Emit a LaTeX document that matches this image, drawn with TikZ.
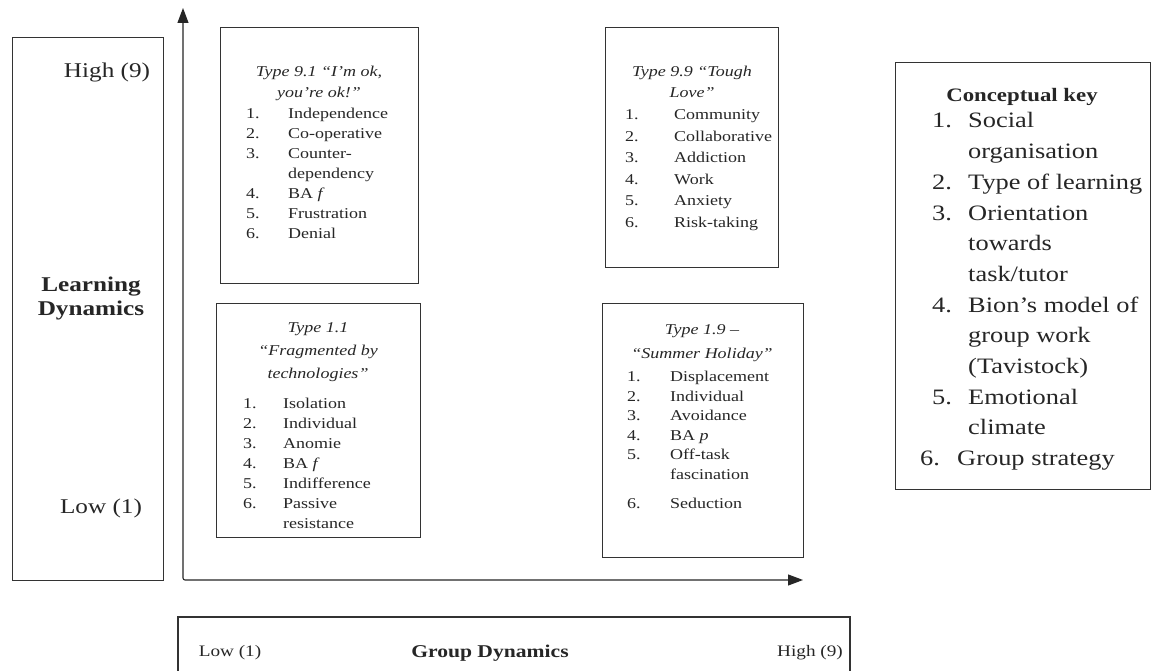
\documentclass[tikz,border=0pt]{standalone}
\usepackage{fontspec}
\setmainfont{Liberation Serif}[FakeStretch=1.2]
\usepackage{array}
\usetikzlibrary{arrows.meta,positioning}

\tikzset{
  quad/.style={draw=black!80,line width=1.1pt,inner sep=0pt,anchor=north west},
  qtitle/.style={anchor=base,inner sep=0pt,align=center,text=black!85,
    font=\fontsize{15}{21}\selectfont\itshape},
  qlist/.style={anchor=base west,inner sep=0pt,text=black!85},
  axislab/.style={inner sep=0pt,text=black!85,font=\fontsize{21}{24}\selectfont}
}

\begin{document}
\begin{tikzpicture}[x=1pt,y=1pt]
		\path[use as bounding box,fill=white] (0,0) rectangle (1156,671);
		%
		\node[quad,minimum width=151pt,minimum height=543pt] (LD) at (12,634) {};
		\node[axislab] (LDhi) at (107,599) {High (9)};
		\node[axislab,align=center,font=\fontsize{21}{24}\selectfont\bfseries] (LDname) at (91,373) {Learning\\Dynamics};
		\node[axislab] (LDlo) at (101,163) {Low (1)};
		%
		\coordinate (Ytop) at (183,663);
		\coordinate (O) at (183,91);
		\coordinate (Xend) at (803,91);
		\draw[black!85,line width=1.1pt,rounded corners=2pt,
			{Triangle[length=15pt,width=11pt]}-{Triangle[length=15pt,width=11pt]}]
			(Ytop) -- (O) -- (Xend);
		%
		% type 9.1
		\node[quad,minimum width=198pt,minimum height=256pt] (Q91) at (220,644) {};
		\node[qtitle] (Q91t) at (319,573) {Type 9.1 ``I'm ok,\\you're ok!''};
		\node[qlist,font=\fontsize{15}{20}\selectfont] (Q91l) at (246,552) {%
			\begin{tabular}[t]{@{}p{42pt}@{}l@{}}
			1. & Independence\\
			2. & Co-operative\\
			3. & Counter-\\
			   & dependency\\
			4. & BA \textit{f}\\
			5. & Frustration\\
			6. & Denial
			\end{tabular}};
		%
		% type 9.9
		\node[quad,minimum width=173pt,minimum height=240pt] (Q99) at (605,644) {};
		\node[qtitle] (Q99t) at (692,573) {Type 9.9 ``Tough\\Love''};
		\node[qlist,font=\fontsize{15}{21.5}\selectfont] (Q99l) at (625,551) {%
			\begin{tabular}[t]{@{}p{49pt}@{}l@{}}
			1. & Community\\
			2. & Collaborative\\
			3. & Addiction\\
			4. & Work\\
			5. & Anxiety\\
			6. & Risk-taking
			\end{tabular}};
		%
		% type 1.1
		\node[quad,minimum width=204pt,minimum height=234pt] (Q11) at (216,368) {};
		\node[qtitle,font=\fontsize{15}{23}\selectfont\itshape] (Q11t) at (318,292) {Type 1.1\\``Fragmented by\\technologies''};
		\node[qlist,font=\fontsize{15}{20}\selectfont] (Q11l) at (243,262) {%
			\begin{tabular}[t]{@{}p{40pt}@{}l@{}}
			1. & Isolation\\
			2. & Individual\\
			3. & Anomie\\
			4. & BA \textit{f}\\
			5. & Indifference\\
			6. & Passive\\
			   & resistance
			\end{tabular}};
		%
		% type 1.9
		\node[quad,minimum width=201pt,minimum height=254pt] (Q19) at (602,368) {};
		\node[qtitle,font=\fontsize{15}{24}\selectfont\itshape] (Q19t) at (702,312) {Type 1.9 --\\``Summer Holiday''};
		\node[qlist,font=\fontsize{15}{19.5}\selectfont] (Q19l) at (627,289) {%
			\begin{tabular}[t]{@{}p{43pt}@{}l@{}}
			1. & Displacement\\
			2. & Individual\\
			3. & Avoidance\\
			4. & BA \textit{p}\\
			5. & Off-task\\
			   & fascination\\[10pt]
			6. & Seduction
			\end{tabular}};
		%
		% key
		\node[quad,minimum width=255pt,minimum height=427pt] (Key) at (895,609) {};
		\node[qtitle,font=\fontsize{19}{22}\selectfont\bfseries] (Keyt) at (1022,569) {Conceptual key};
		\node[qlist,font=\fontsize{22}{30.7}\selectfont] (Keyl) at (932,543) {%
			\begin{tabular}[t]{@{}p{36pt}@{}l@{}}
			1. & Social\\
			   & organisation\\
			2. & Type of learning\\
			3. & Orientation\\
			   & towards\\
			   & task/tutor\\
			4. & Bion's model of\\
			   & group work\\
			   & (Tavistock)\\
			5. & Emotional\\
			   & climate\\
			\hspace*{-12pt}6. & \hspace*{-11pt}Group strategy
			\end{tabular}};
		%
		% group dynamics
		\coordinate (GDa) at (178,-2);
		\coordinate (GDb) at (178,54);
		\coordinate (GDc) at (850,54);
		\coordinate (GDd) at (850,-2);
		\draw[black!80,line width=1.1pt] (GDa) -- (GDb) -- (GDc) -- (GDd);
		\node[axislab,font=\fontsize{16}{18}\selectfont] (GDlo) at (230,18) {Low (1)};
		\node[axislab,font=\fontsize{18}{20}\selectfont\bfseries] (GDname) at (490,18) {Group Dynamics};
		\node[axislab,font=\fontsize{16}{18}\selectfont] (GDhi) at (810,18) {High (9)};
	\end{tikzpicture}
\end{document}
